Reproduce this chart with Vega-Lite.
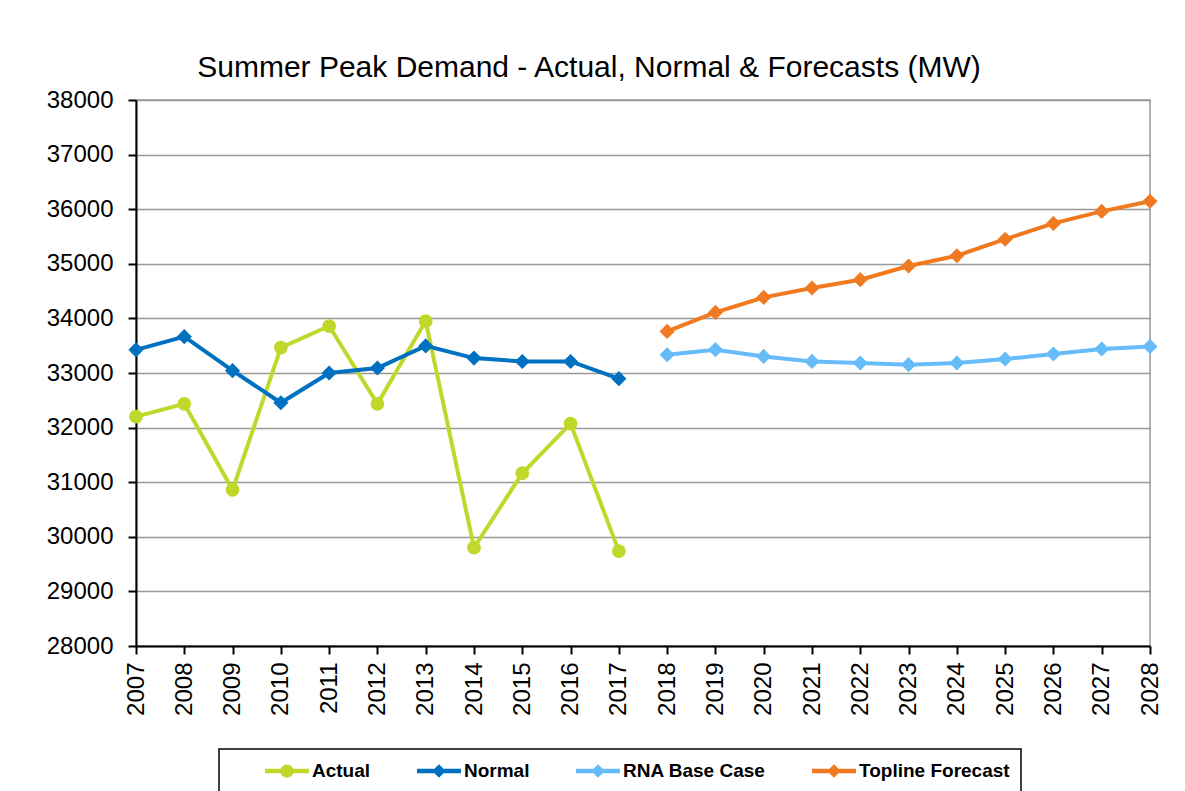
{
  "$schema": "https://vega.github.io/schema/vega-lite/v6.json",
  "width": 1014,
  "height": 546,
  "autosize": {"type": "none"},
  "padding": {"left": 136, "top": 100, "right": 35, "bottom": 145},
  "background": "white",
  "title": {
    "text": "Summer  Peak  Demand - Actual, Normal & Forecasts (MW)",
    "font": "Liberation Sans",
    "fontSize": 30,
    "fontWeight": "normal",
    "color": "black",
    "anchor": "middle",
    "dx": -54,
    "baseline": "alphabetic",
    "offset": -19
  },
  "config": {
    "view": {"stroke": "#999999", "strokeWidth": 1.5},
    "axis": {
      "labelFont": "Liberation Sans",
      "labelFontSize": 24,
      "labelColor": "black",
      "domainColor": "black",
      "domainWidth": 2,
      "tickColor": "black",
      "tickWidth": 2,
      "tickSize": 8,
      "title": null
    }
  },
  "data": {
    "values": [
      {"year": 2007, "series": "Actual", "value": 32200},
      {"year": 2008, "series": "Actual", "value": 32436},
      {"year": 2009, "series": "Actual", "value": 30860},
      {"year": 2010, "series": "Actual", "value": 33465},
      {"year": 2011, "series": "Actual", "value": 33860},
      {"year": 2012, "series": "Actual", "value": 32436},
      {"year": 2013, "series": "Actual", "value": 33951},
      {"year": 2014, "series": "Actual", "value": 29800},
      {"year": 2015, "series": "Actual", "value": 31164},
      {"year": 2016, "series": "Actual", "value": 32073},
      {"year": 2017, "series": "Actual", "value": 29738},
      {"year": 2007, "series": "Normal", "value": 33424},
      {"year": 2008, "series": "Normal", "value": 33665},
      {"year": 2009, "series": "Normal", "value": 33042},
      {"year": 2010, "series": "Normal", "value": 32455},
      {"year": 2011, "series": "Normal", "value": 33000},
      {"year": 2012, "series": "Normal", "value": 33091},
      {"year": 2013, "series": "Normal", "value": 33496},
      {"year": 2014, "series": "Normal", "value": 33273},
      {"year": 2015, "series": "Normal", "value": 33211},
      {"year": 2016, "series": "Normal", "value": 33211},
      {"year": 2017, "series": "Normal", "value": 32896},
      {"year": 2018, "series": "RNA Base Case", "value": 33335},
      {"year": 2019, "series": "RNA Base Case", "value": 33427},
      {"year": 2020, "series": "RNA Base Case", "value": 33304},
      {"year": 2021, "series": "RNA Base Case", "value": 33212},
      {"year": 2022, "series": "RNA Base Case", "value": 33183},
      {"year": 2023, "series": "RNA Base Case", "value": 33152},
      {"year": 2024, "series": "RNA Base Case", "value": 33183},
      {"year": 2025, "series": "RNA Base Case", "value": 33256},
      {"year": 2026, "series": "RNA Base Case", "value": 33348},
      {"year": 2027, "series": "RNA Base Case", "value": 33440},
      {"year": 2028, "series": "RNA Base Case", "value": 33487},
      {"year": 2018, "series": "Topline Forecast", "value": 33762},
      {"year": 2019, "series": "Topline Forecast", "value": 34110},
      {"year": 2020, "series": "Topline Forecast", "value": 34385},
      {"year": 2021, "series": "Topline Forecast", "value": 34557},
      {"year": 2022, "series": "Topline Forecast", "value": 34709},
      {"year": 2023, "series": "Topline Forecast", "value": 34960},
      {"year": 2024, "series": "Topline Forecast", "value": 35148},
      {"year": 2025, "series": "Topline Forecast", "value": 35450},
      {"year": 2026, "series": "Topline Forecast", "value": 35740},
      {"year": 2027, "series": "Topline Forecast", "value": 35960},
      {"year": 2028, "series": "Topline Forecast", "value": 36146}
    ]
  },
  "encoding": {
    "x": {
      "field": "year",
      "type": "quantitative",
      "scale": {"domain": [2007, 2028], "nice": false, "zero": false},
      "axis": {
        "values": [2007, 2008, 2009, 2010, 2011, 2012, 2013, 2014, 2015, 2016, 2017, 2018, 2019, 2020, 2021, 2022, 2023, 2024, 2025, 2026, 2027, 2028],
        "format": "d",
        "labelAngle": -90,
        "labelPadding": 8,
        "grid": false,
        "labelOverlap": false
      }
    },
    "y": {
      "field": "value",
      "type": "quantitative",
      "scale": {"domain": [28000, 38000], "nice": false, "zero": false},
      "axis": {
        "values": [28000, 29000, 30000, 31000, 32000, 33000, 34000, 35000, 36000, 37000, 38000],
        "format": "d",
        "labelPadding": 15,
        "grid": true,
        "gridColor": "#999999",
        "gridWidth": 1.5,
        "labelOverlap": false
      }
    },
    "color": {
      "field": "series",
      "type": "nominal",
      "scale": {
        "domain": ["Actual", "Normal", "RNA Base Case", "Topline Forecast"],
        "range": ["#BFD82B", "#0070C0", "#66BCF8", "#F07A22"]
      },
      "legend": {
        "orient": "none",
        "legendX": 83,
        "legendY": 649,
        "direction": "horizontal",
        "title": " ",
        "titleOrient": "left",
        "titlePadding": 46,
        "titleFontSize": 10,
        "strokeColor": "black",
        "padding": 11,
        "symbolSize": 484,
        "labelOffset": 14,
        "columnPadding": 46,
        "labelFont": "Liberation Sans",
        "labelFontSize": 19,
        "labelFontWeight": "bold",
        "labelColor": "black",
        "labelLimit": 400,
        "encode": {
          "legend": {"update": {"strokeWidth": {"value": 1.5}}},
          "symbols": {
            "update": {
              "shape": {"signal": "datum.value === 'Actual' ? 'M-2,-0.2H2V0.2H-2Z M-0.6,0A0.6,0.6 0 1,1 0.6,0A0.6,0.6 0 1,1 -0.6,0Z' : 'M-2,-0.2H2V0.2H-2Z M0,-0.62L0.62,0L0,0.62L-0.62,0Z'"},
              "fill": {"scale": "color", "field": "value"},
              "stroke": {"value": "transparent"},
              "strokeWidth": {"value": 0},
              "opacity": {"value": 1}
            }
          }
        }
      }
    }
  },
  "layer": [
    {"mark": {"type": "line", "strokeWidth": 4}},
    {
      "transform": [{"filter": "datum.series === 'Actual'"}],
      "mark": {"type": "point", "shape": "circle", "filled": true, "opacity": 1, "size": 190}
    },
    {
      "transform": [{"filter": "datum.series !== 'Actual'"}],
      "mark": {"type": "point", "shape": "diamond", "filled": true, "opacity": 1, "size": 230}
    }
  ]
}
